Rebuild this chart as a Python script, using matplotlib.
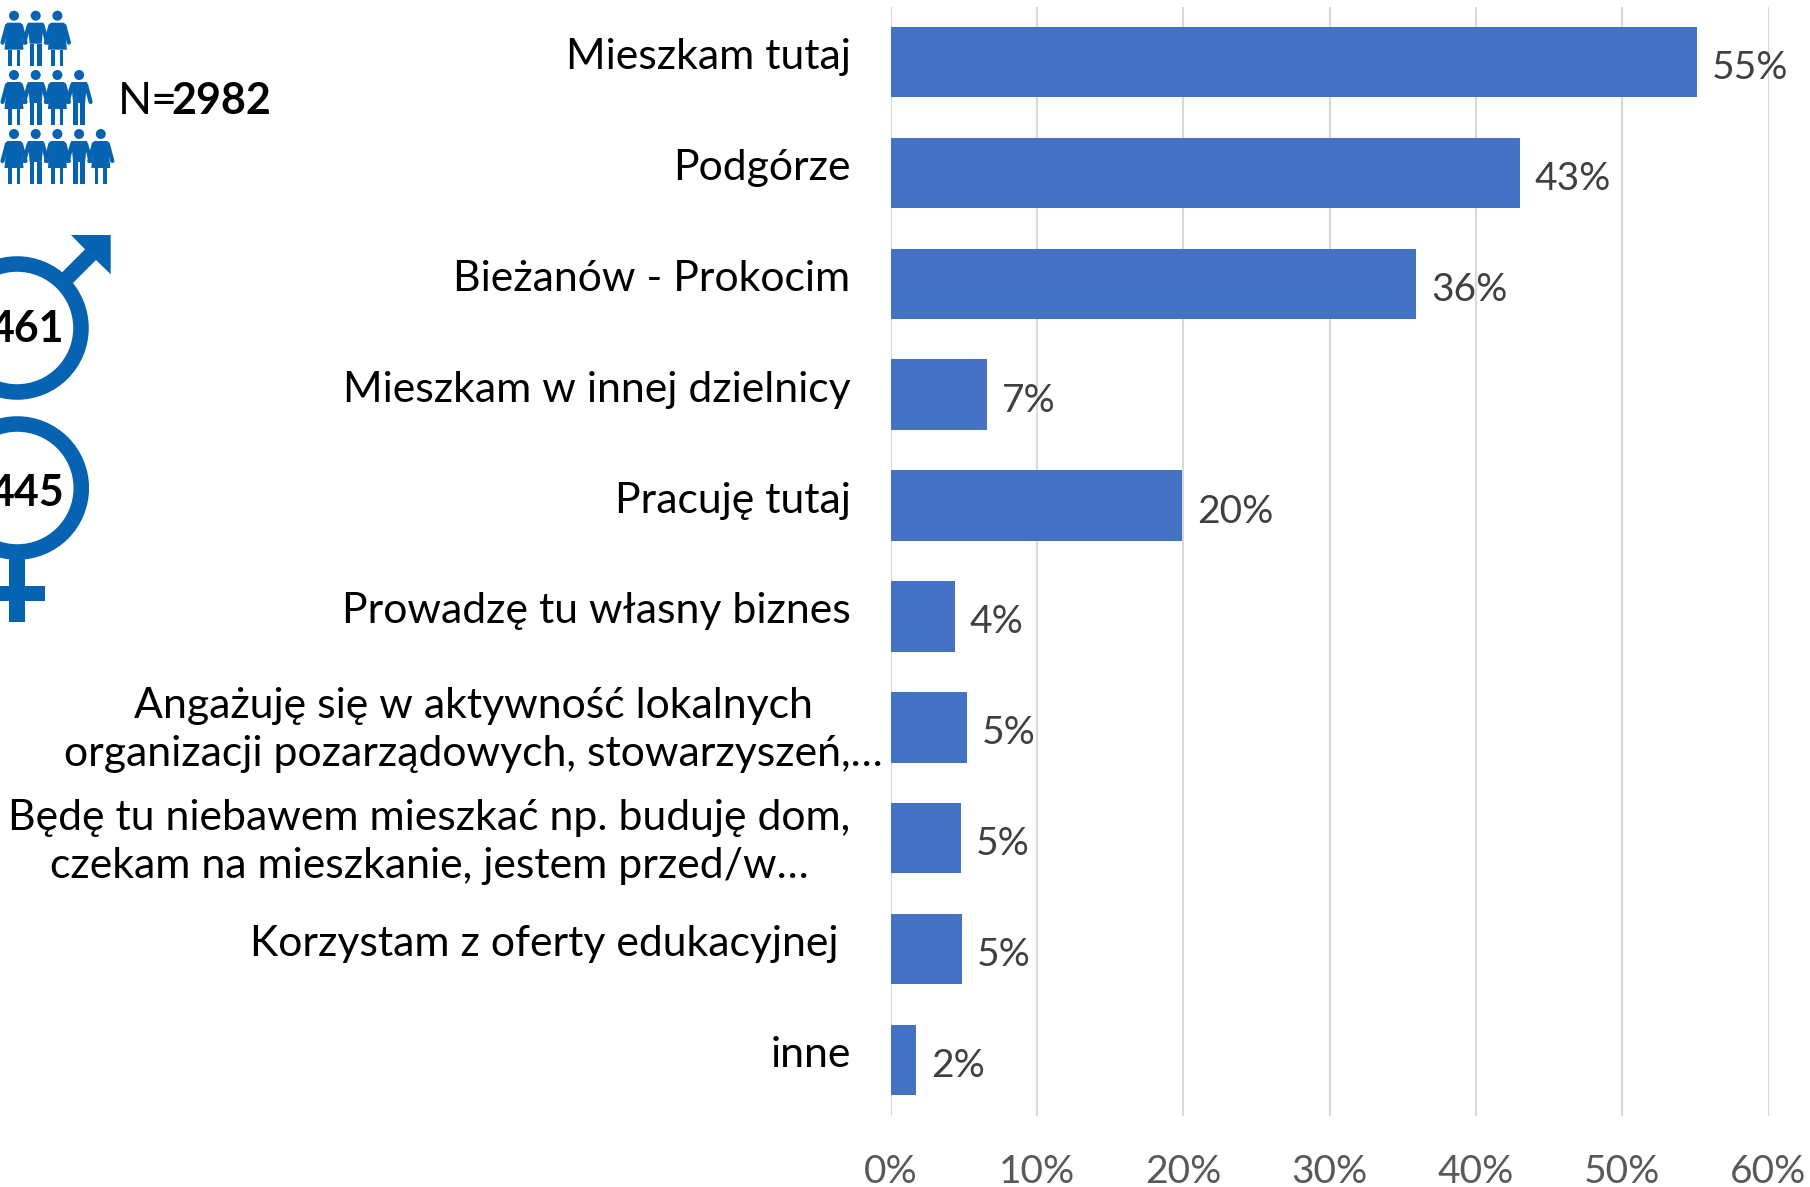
import matplotlib.pyplot as plt
from matplotlib.patches import Circle, Polygon, Rectangle
from matplotlib.ticker import PercentFormatter

plt.rcParams['font.family'] = ['Lato', 'DejaVu Sans']

categories = [
    "Mieszkam tutaj",
    "Podgórze",
    "Bieżanów - Prokocim",
    "Mieszkam w innej dzielnicy",
    "Pracuję tutaj",
    "Prowadzę tu własny biznes",
    "Angażuję się w aktywność lokalnych\norganizacji pozarządowych, stowarzyszeń,…",
    "Będę tu niebawem mieszkać np. buduję dom,\nczekam na mieszkanie, jestem przed/w…",
    "Korzystam z oferty edukacyjnej",
    "inne",
]
bar_values = [55.1, 43.0, 35.9, 6.6, 19.9, 4.4, 5.2, 4.8, 4.9, 1.75]
value_labels = ["55%", "43%", "36%", "7%", "20%", "4%", "5%", "5%", "5%", "2%"]
x_ticks = [0, 10, 20, 30, 40, 50, 60]
icon_rows = ["FMF", "FMFM", "FMFMF"]
n_total = "2982"
n_men = "461"
n_women = "445"

BLUE = "#0563B1"
W, H = 1810, 1187

fig = plt.figure(figsize=(W / 100, H / 100), dpi=100)

# main bar chart
ax = fig.add_axes([890.5 / W, 1 - 1115.5 / H, (1768.5 - 890.5) / W, (1115.5 - 6.5) / H])
ypos = list(range(len(categories)))
ax.barh(ypos, bar_values, height=0.635, color="#4472C4", zorder=3)
ax.set_xlim(0, 60)
ax.set_ylim(len(categories) - 0.5, -0.5)
ax.set_xticks(x_ticks)
ax.xaxis.set_major_formatter(PercentFormatter(decimals=0))
ax.set_yticks([])
ax.grid(axis="x", color="#D9D9D9", linewidth=1.5, zorder=0)
ax.tick_params(axis="x", length=0, pad=28, labelsize=28, labelcolor="#595959")
for s in ax.spines.values():
    s.set_visible(False)

for y, v, lab in zip(ypos, bar_values, value_labels):
    ax.annotate(lab, (v, y), xytext=(15, -6), textcoords="offset pixels",
                ha="left", va="center", fontsize=28, color="#404040", zorder=4)

# category labels, Excel placed a few of them off the common right edge
for y, cat in zip(ypos, categories):
    dx, dy = -40, 5
    if y == 6:
        dx = -8
        dy = -3
    elif y == 7:
        dx = -40
        dy = -4
    elif y == 8:
        dx = -52
    ax.annotate(cat, (0, y), xytext=(dx, dy), textcoords="offset pixels",
                ha="right", va="center", multialignment="center",
                fontsize=30.8, color="black", linespacing=1.33, zorder=4, annotation_clip=False)

# overlay in pixel coordinates for the pictograms
ov = fig.add_axes([0, 0, 1, 1], facecolor="none")
ov.set_xlim(0, W)
ov.set_ylim(H, 0)
ov.axis("off")


def person(hx, hy, kind):
    ov.add_patch(Circle((hx, hy), 5, color=BLUE, lw=0))
    for sign in (-1, 1):
        ov.plot([hx + sign * 7, hx + sign * 11.5], [hy + 10, hy + 27],
                color=BLUE, lw=3, solid_capstyle="round")
    if kind == "F":
        ov.add_patch(Polygon([(hx - 7, hy + 7), (hx + 7, hy + 7), (hx + 9.5, hy + 34), (hx - 9.5, hy + 34)],
                             color=BLUE, lw=0))
        for lx in (-6, 2.5):
            ov.add_patch(Rectangle((hx + lx, hy + 34), 3.5, 16, color=BLUE, lw=0))
    else:
        ov.add_patch(Polygon([(hx - 8, hy + 7), (hx + 8, hy + 7), (hx + 6, hy + 28), (hx - 6, hy + 28)],
                             color=BLUE, lw=0))
        for lx in (-6, 1.3):
            ov.add_patch(Rectangle((hx + lx, hy + 28), 4.7, 22, color=BLUE, lw=0))


for row, hy in zip(icon_rows, (15.7, 75, 134)):
    for i, kind in enumerate(row):
        person(14 + i * 21.7, hy, kind)

# male symbol
ov.add_patch(Circle((17, 328), 64, fill=False, ec=BLUE, lw=11.2))
ov.add_patch(Polygon([(71, 235), (110.7, 235), (110.7, 274.3), (96, 260), (72.7, 283.3),
                      (61.7, 272.7), (85, 249.3)], color=BLUE, lw=0))

# female symbol
ov.add_patch(Circle((17.3, 488), 64, fill=False, ec=BLUE, lw=11.2))
ov.add_patch(Rectangle((9.3, 558), 15.7, 64, color=BLUE, lw=0))
ov.add_patch(Rectangle((-1, 585.7), 46, 15.3, color=BLUE, lw=0))

ov.text(65, 329.5, n_men, ha="right", va="center", fontsize=31, fontweight="bold", color="black")
ov.text(65, 493.5, n_women, ha="right", va="center", fontsize=31, fontweight="bold", color="black")
ov.text(117.5, 101.5, "N=", ha="left", va="center", fontsize=32, color="black")
ov.text(171.5, 101.5, n_total, ha="left", va="center", fontsize=31, fontweight="bold", color="black")

fig.savefig("out.png", dpi=100)
